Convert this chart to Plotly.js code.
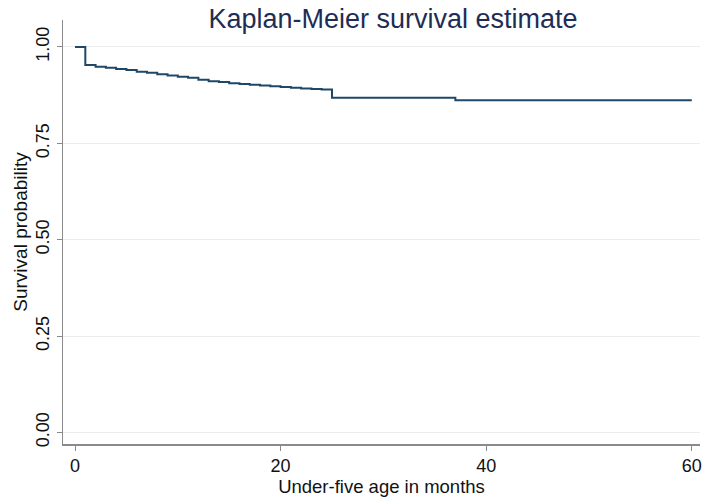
<!DOCTYPE html>
<html>
<head>
<meta charset="utf-8">
<script src="https://cdn.plot.ly/plotly-3.0.1.min.js"></script>
<style>
  html, body { margin: 0; padding: 0; background: #ffffff; }
  #chart { width: 702px; height: 498px; }
</style>
</head>
<body>
<div id="chart"></div>
<script>
// Kaplan-Meier step estimate: time of each event (months) and survival after it
const months = [0, 1, 2, 3, 4, 5, 6, 7, 8, 9, 10, 11, 12, 13, 14, 15, 16, 17, 18, 19, 20, 21, 22, 23, 24, 25, 37, 60];
const survival = [1.000, 0.953, 0.949, 0.946, 0.943, 0.940, 0.936, 0.933, 0.929, 0.926, 0.923, 0.920, 0.915, 0.911, 0.909, 0.906, 0.904, 0.902, 0.900, 0.898, 0.896, 0.894, 0.892, 0.891, 0.890, 0.868, 0.862, 0.862];

const xTicks = [0, 20, 40, 60];
const yTicks = [0, 0.25, 0.5, 0.75, 1];
const yTickText = ['0.00', '0.25', '0.50', '0.75', '1.00'];

const font = 'Liberation Sans, Arial, Helvetica, sans-serif';

const trace = {
  x: months,
  y: survival,
  type: 'scatter',
  mode: 'lines',
  line: { shape: 'hv', color: '#1f4868', width: 2 },
  hoverinfo: 'x+y'
};

const layout = {
  width: 702,
  height: 498,
  margin: { l: 63, r: 2, t: 20, b: 54 },
  paper_bgcolor: '#ffffff',
  plot_bgcolor: '#ffffff',
  showlegend: false,
  font: { family: font, size: 16, color: '#111111' },
  title: {
    text: 'Kaplan-Meier survival estimate',
    font: { family: font, size: 27, color: '#1e2d55' },
    xref: 'paper', x: 0.518, xanchor: 'center',
    yref: 'container', y: 0.962, yanchor: 'middle'
  },
  xaxis: {
    range: [-1.17, 60.8],
    tickvals: xTicks,
    ticks: 'outside', ticklen: 5, tickcolor: '#8a8a8a', tickwidth: 1,
    showline: true, linecolor: '#8a8a8a', linewidth: 1.5,
    showgrid: false, zeroline: false,
    tickfont: { family: font, size: 18, color: '#111111' },
    title: { text: 'Under-five age in months', font: { family: font, size: 18.5, color: '#111111' }, standoff: 0 }
  },
  yaxis: {
    range: [-0.03, 1.07],
    tickvals: yTicks,
    ticktext: yTickText,
    tickangle: -90,
    ticks: 'outside', ticklen: 5, tickcolor: '#8a8a8a', tickwidth: 1,
    showline: true, linecolor: '#8a8a8a', linewidth: 1.5,
    showgrid: true, gridcolor: '#ececec', gridwidth: 1,
    zeroline: false,
    tickfont: { family: font, size: 18, color: '#111111' },
    title: { text: 'Survival probability', font: { family: font, size: 19, color: '#111111' }, standoff: 0 }
  }
};

Plotly.newPlot('chart', [trace], layout, { displayModeBar: false, staticPlot: true });
</script>
</body>
</html>
